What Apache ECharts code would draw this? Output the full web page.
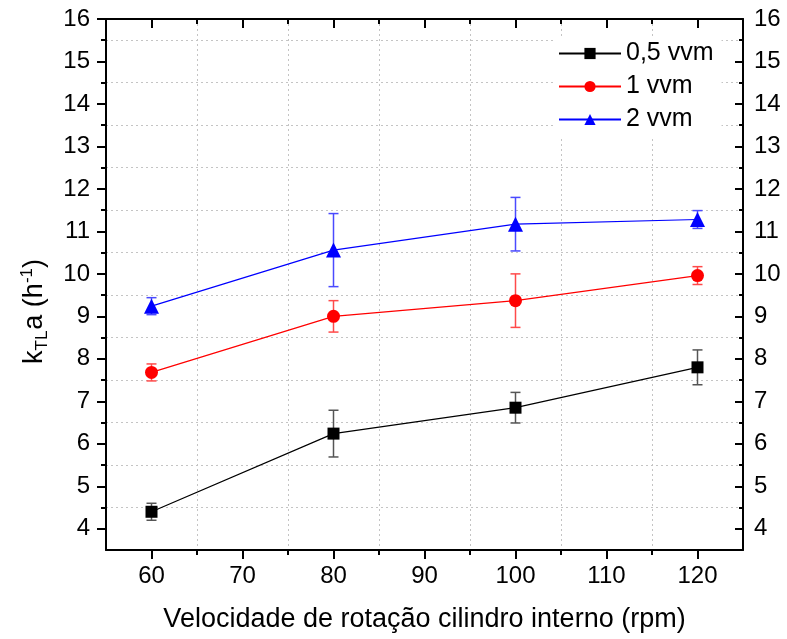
<!DOCTYPE html>
<html><head><meta charset="utf-8">
<script src="https://cdn.jsdelivr.net/npm/echarts@6/dist/echarts.min.js"></script>
<style>html,body{margin:0;padding:0;background:#fff}#c{width:787px;height:639px}</style>
</head><body><div id="c"></div>
<script>
const rpm = [60, 80, 100, 120];
const seriesNames = ['0,5 vvm', '1 vvm', '2 vvm'];
const kla05 = [4.40, 6.24, 6.85, 7.80];
const err05 = [0.20, 0.55, 0.36, 0.41];
const kla1 = [7.68, 9.00, 9.37, 9.96];
const err1 = [0.20, 0.37, 0.63, 0.21];
const kla2 = [9.24, 10.56, 11.17, 11.28];
const err2 = [0.20, 0.86, 0.63, 0.21];
const xMajorTicks = [60, 70, 80, 90, 100, 110, 120];
const xMinorTicks = [65, 75, 85, 95, 105, 115];
const yMajorTicks = [4, 5, 6, 7, 8, 9, 10, 11, 12, 13, 14, 15, 16];
const yMinorTicks = [4.5, 5.5, 6.5, 7.5, 8.5, 9.5, 10.5, 11.5, 12.5, 13.5, 14.5, 15.5];
const xTitle = 'Velocidade de rotação cilindro interno (rpm)';

const FONT = 'Liberation Sans, Arial, sans-serif';
const colors = ['#000000', '#ff0000', '#0000ff'];
const errColors = ['#555555', '#ff4a4a', '#4a4aff'];
const symbols = ['rect', 'circle', 'triangle'];
const symSizes = [12, 13, 15];

const X_MIN = 55, X_MAX = 125, Y_MIN = 3.5, Y_MAX = 16;
const xBase = {type: 'value', min: X_MIN, max: X_MAX, interval: 5, gridIndex: 0};
const yBase = {type: 'value', min: Y_MIN, max: Y_MAX, interval: 0.5, gridIndex: 0};
const lineBlack = {color: '#000', width: 2};
const labelStyle = {fontSize: 24, color: '#000', fontFamily: FONT};
const gridLine = {show: true, showMinLine: false, showMaxLine: false, lineStyle: {color: '#c4c4c4', type: [2, 3], width: 1}};
const hidden = {axisLine: {show: false}, axisTick: {show: false}, axisLabel: {show: false}};

const xAxis = [
  Object.assign({}, xBase, {
    position: 'bottom',
    axisLine: {show: true, onZero: false, lineStyle: lineBlack},
    axisTick: {show: true, customValues: xMajorTicks, length: 9, lineStyle: lineBlack},
    axisLabel: Object.assign({show: true, customValues: xMajorTicks, margin: 14}, labelStyle),
    splitLine: {show: false},
    name: xTitle, nameLocation: 'middle', nameGap: 56,
    nameTextStyle: {fontSize: 27, color: '#000', fontFamily: FONT}
  }),
  Object.assign({}, xBase, {
    position: 'bottom',
    axisLine: {show: false},
    axisTick: {show: true, customValues: xMinorTicks, length: 5, lineStyle: lineBlack},
    axisLabel: {show: false}, splitLine: {show: false}
  }),
  Object.assign({}, xBase, {
    position: 'top',
    axisLine: {show: true, onZero: false, lineStyle: lineBlack},
    axisTick: {show: true, inside: true, customValues: xMajorTicks, length: 9, lineStyle: lineBlack},
    axisLabel: {show: false}, splitLine: {show: false}
  }),
  Object.assign({}, xBase, {
    position: 'top',
    axisLine: {show: false},
    axisTick: {show: true, inside: true, customValues: xMinorTicks, length: 5, lineStyle: lineBlack},
    axisLabel: {show: false}, splitLine: {show: false}
  }),
  // gridline helper: offset scale so its ticks fall on 65, 75, ... (minor positions)
  Object.assign({type: 'value', gridIndex: 0, min: 0, max: X_MAX - X_MIN, interval: 10, position: 'bottom',
    splitLine: gridLine}, hidden)
];

const yAxis = [
  Object.assign({}, yBase, {
    position: 'left',
    axisLine: {show: true, onZero: false, lineStyle: lineBlack},
    axisTick: {show: true, customValues: yMajorTicks, length: 9, lineStyle: lineBlack},
    axisLabel: Object.assign({show: true, customValues: yMajorTicks, margin: 16}, labelStyle),
    splitLine: {show: false},
    name: '{k|k}{sub|TL}{k|a (h}{sup|-1}{k|)}',
    nameLocation: 'middle', nameGap: 57,
    nameTextStyle: {
      fontSize: 27, color: '#000', fontFamily: FONT,
      padding: [0, 54, 0, 0],
      rich: {
        k: {fontSize: 27, fontFamily: FONT, color: '#000', lineHeight: 28, verticalAlign: 'middle'},
        sub: {fontSize: 17, fontFamily: FONT, color: '#000', lineHeight: 17, padding: [15, 1, 0, 0], verticalAlign: 'middle'},
        sup: {fontSize: 17, fontFamily: FONT, color: '#000', lineHeight: 17, padding: [0, 0, 15, 0], verticalAlign: 'middle'}
      }
    }
  }),
  Object.assign({}, yBase, {
    position: 'left',
    axisLine: {show: false},
    axisTick: {show: true, customValues: yMinorTicks, length: 5, lineStyle: lineBlack},
    axisLabel: {show: false}, splitLine: {show: false}
  }),
  Object.assign({}, yBase, {
    position: 'right',
    axisLine: {show: true, onZero: false, lineStyle: lineBlack},
    axisTick: {show: true, inside: true, customValues: yMajorTicks, length: 8, lineStyle: lineBlack},
    axisLabel: Object.assign({show: true, customValues: yMajorTicks, margin: 11}, labelStyle),
    splitLine: {show: false}
  }),
  Object.assign({}, yBase, {
    position: 'right',
    axisLine: {show: false},
    axisTick: {show: true, inside: true, customValues: yMinorTicks, length: 4, lineStyle: lineBlack},
    axisLabel: {show: false}, splitLine: {show: false}
  }),
  // gridline helper: offset scale so its ticks fall on 4.5, 5.5, ... (minor positions)
  Object.assign({type: 'value', gridIndex: 0, min: 0, max: Y_MAX - Y_MIN, interval: 1, position: 'left',
    splitLine: gridLine}, hidden)
];

function errSeries(vals, errs, color) {
  return {
    type: 'custom', xAxisIndex: 0, yAxisIndex: 0, silent: true, z: 1,
    data: rpm.map((x, i) => [x, vals[i] - errs[i], vals[i] + errs[i]]),
    encode: {x: 0, y: [1, 2]},
    renderItem: function (params, api) {
      const x = api.value(0);
      const lo = api.coord([x, api.value(1)]);
      const hi = api.coord([x, api.value(2)]);
      const w = 5;
      const st = {stroke: color, lineWidth: 1.5};
      return {type: 'group', children: [
        {type: 'line', shape: {x1: lo[0], y1: lo[1], x2: hi[0], y2: hi[1]}, style: st},
        {type: 'line', shape: {x1: lo[0] - w, y1: lo[1], x2: lo[0] + w, y2: lo[1]}, style: st},
        {type: 'line', shape: {x1: hi[0] - w, y1: hi[1], x2: hi[0] + w, y2: hi[1]}, style: st}
      ]};
    }
  };
}

const vals = [kla05, kla1, kla2];
const errs = [err05, err1, err2];
const series = [];
for (let s = 0; s < 3; s++) {
  series.push(errSeries(vals[s], errs[s], errColors[s]));
}
for (let s = 0; s < 3; s++) {
  series.push({
    name: seriesNames[s], type: 'line', xAxisIndex: 0, yAxisIndex: 0, z: 3,
    data: rpm.map((x, i) => [x, vals[s][i]]),
    symbol: symbols[s], symbolSize: symSizes[s], showAllSymbol: true,
    lineStyle: {color: colors[s], width: 1.2},
    itemStyle: {color: colors[s]},
    emphasis: {disabled: true}, animation: false
  });
}

const chart = echarts.init(document.getElementById('c'), null, {renderer: 'canvas'});
chart.setOption({
  animation: false,
  backgroundColor: '#fff',
  grid: {left: 106, right: 44, top: 19, bottom: 89, containLabel: false},
  xAxis: xAxis,
  yAxis: yAxis,
  legend: {
    data: seriesNames, orient: 'vertical', left: 553, top: 37,
    itemWidth: 62, itemHeight: 14, itemGap: 8,
    backgroundColor: '#fff', padding: [4, 8, 4, 5],
    textStyle: {fontSize: 25, color: '#000', fontFamily: FONT, lineHeight: 25}
  },
  series: series
});
</script>
</body></html>
